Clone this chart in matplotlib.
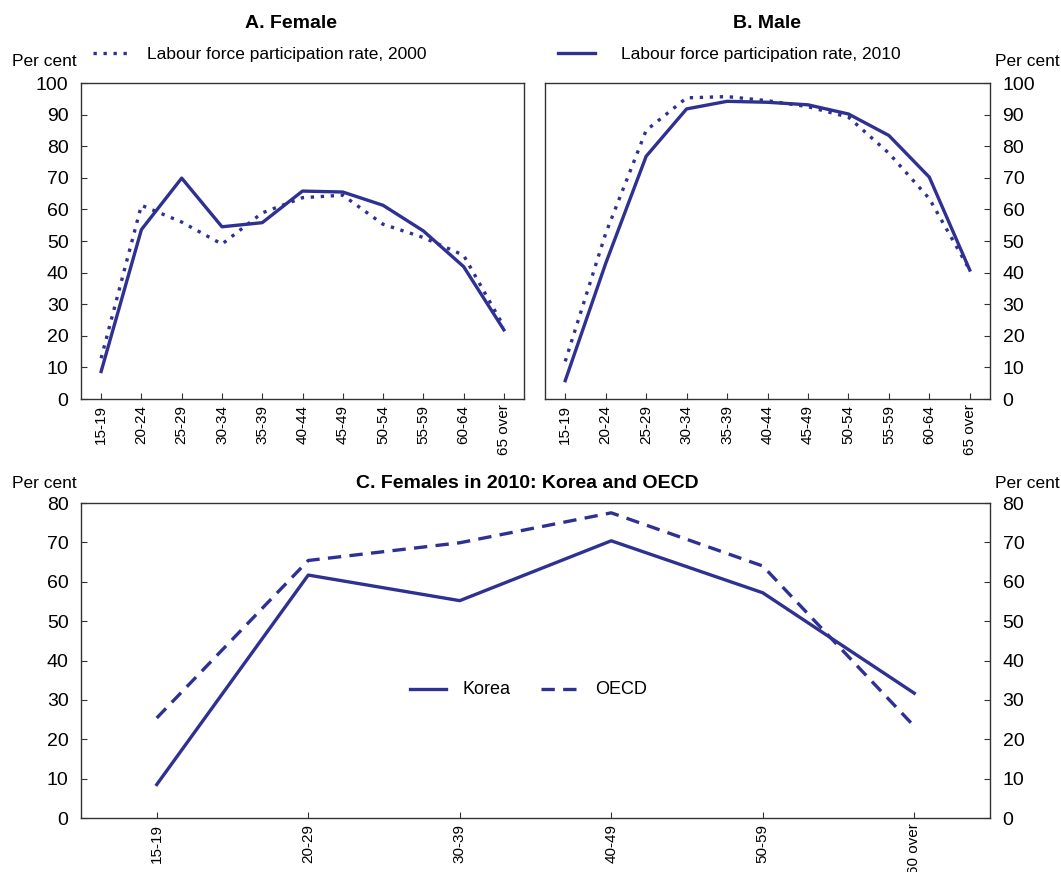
import matplotlib
matplotlib.use("Agg")
import matplotlib.pyplot as plt
from matplotlib.lines import Line2D

plt.rcParams['font.family'] = ['Liberation Sans', 'DejaVu Sans']

age5 = ["15-19", "20-24", "25-29", "30-34", "35-39", "40-44", "45-49",
        "50-54", "55-59", "60-64", "65 over"]
female_2000 = [12.9, 61.3, 56.0, 49.0, 58.9, 63.7, 64.5, 55.3, 51.1, 45.5, 22.9]
female_2010 = [8.7, 53.6, 69.9, 54.5, 55.8, 65.8, 65.5, 61.3, 53.2, 41.9, 21.9]
male_2000 = [11.9, 52.4, 85.0, 95.3, 95.7, 94.4, 92.5, 89.2, 77.8, 63.4, 40.8]
male_2010 = [5.8, 42.9, 76.8, 91.8, 94.2, 93.9, 93.1, 90.2, 83.4, 70.2, 40.8]

age10 = ["15-19", "20-29", "30-39", "40-49", "50-59", "60 over"]
korea = [8.5, 61.7, 55.2, 70.4, 57.2, 31.7]
oecd = [25.4, 65.4, 69.9, 77.5, 64.0, 23.3]

NAVY = "#2e3192"
W, H = 1061, 872
fig = plt.figure(figsize=(W / 100, H / 100), dpi=100)

def box(l, t, r, b):
    return [l / W, 1 - b / H, (r - l) / W, (b - t) / H]

axA = fig.add_axes(box(81, 83, 524, 399))
axB = fig.add_axes(box(545, 83, 990, 399))
axC = fig.add_axes(box(81, 503, 990, 818))

lw = 2.4
DOT = (0, (1.0, 2.0))
DASH = (0, (4.0, 2.5))

def style(ax, side, ymax, step, cats):
    for s in ax.spines.values():
        s.set_color("#333333")
        s.set_linewidth(1.0)
    ax.set_xlim(-0.5, len(cats) - 0.5)
    ax.set_ylim(0, ymax)
    ax.set_yticks(range(0, ymax + 1, step))
    ax.set_xticks(range(len(cats)))
    ax.set_xticklabels(cats, rotation=90, fontsize=11)
    ax.tick_params(axis="x", direction="in", length=4, pad=4, color="#333333")
    ax.tick_params(axis="y", direction="in", length=4, pad=9, labelsize=14, color="#333333")
    if side == "both":
        ax.tick_params(axis="y", left=True, right=True, labelleft=True, labelright=True)
    elif side == "right":
        ax.yaxis.tick_right()
        ax.tick_params(axis="y", left=False, right=True, labelleft=False, labelright=True)

xA = range(len(age5))
axA.plot(xA, female_2000, color=NAVY, lw=lw, linestyle=DOT)
axA.plot(xA, female_2010, color=NAVY, lw=lw)
style(axA, "left", 100, 10, age5)

axB.plot(xA, male_2000, color=NAVY, lw=lw, linestyle=DOT)
axB.plot(xA, male_2010, color=NAVY, lw=lw)
style(axB, "right", 100, 10, age5)

xC = range(len(age10))
axC.plot(xC, korea, color=NAVY, lw=lw)
axC.plot(xC, oecd, color=NAVY, lw=lw, linestyle=DASH)
style(axC, "both", 80, 10, age10)

def ft(x, y, s, **kw):
    fig.text(x / W, 1 - y / H, s, **kw)

ft(291, 24, "A. Female", ha="center", va="center", fontsize=14, fontweight="bold")
ft(767, 24, "B. Male", ha="center", va="center", fontsize=14, fontweight="bold")
ft(527, 483, "C. Females in 2010: Korea and OECD", ha="center", va="center",
   fontsize=14, fontweight="bold")

ft(12, 62, "Per cent", ha="left", va="center", fontsize=12.5)
ft(995, 62, "Per cent", ha="left", va="center", fontsize=12.5)
ft(12, 483, "Per cent", ha="left", va="center", fontsize=12.5)
ft(995, 483, "Per cent", ha="left", va="center", fontsize=12.5)

# top legend
l1 = Line2D([93 / W, 131 / W], [1 - 53 / H, 1 - 53 / H], transform=fig.transFigure,
            color=NAVY, lw=lw, linestyle=DOT)
l2 = Line2D([558 / W, 595 / W], [1 - 53 / H, 1 - 53 / H], transform=fig.transFigure,
            color=NAVY, lw=lw)
fig.add_artist(l1)
fig.add_artist(l2)
ft(147, 54, "Labour force participation rate, 2000", ha="left", va="center", fontsize=12.5)
ft(621, 54, "Labour force participation rate, 2010", ha="left", va="center", fontsize=12.5)

# panel C legend
l3 = Line2D([410 / W, 446 / W], [1 - 689 / H, 1 - 689 / H], transform=fig.transFigure,
            color=NAVY, lw=lw)
l4 = Line2D([541 / W, 577 / W], [1 - 689 / H, 1 - 689 / H], transform=fig.transFigure,
            color=NAVY, lw=lw, linestyle=DASH)
fig.add_artist(l3)
fig.add_artist(l4)
ft(463, 690, "Korea", ha="left", va="center", fontsize=13)
ft(595, 690, "OECD", ha="left", va="center", fontsize=13)

fig.savefig("out.png", dpi=100)
